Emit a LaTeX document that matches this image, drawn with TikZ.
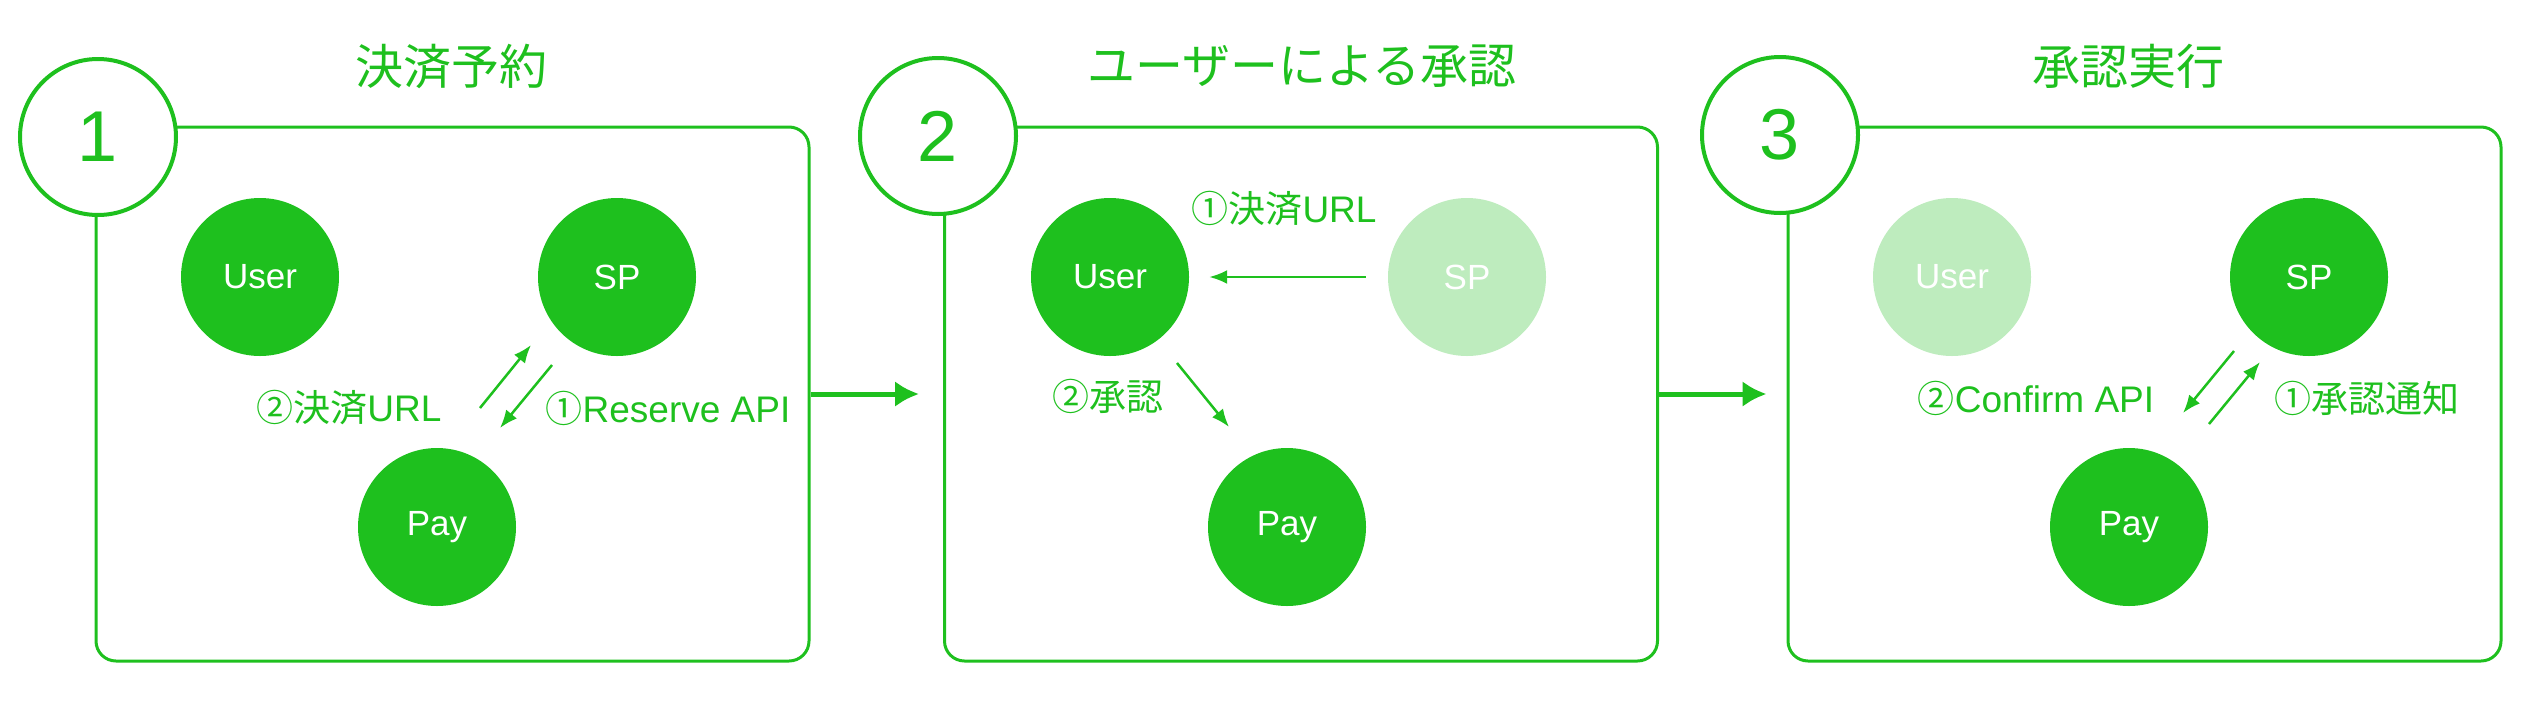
\documentclass[tikz,border=0pt]{standalone}
\usepackage{fontspec}
\setmainfont{Liberation Sans}
\newfontfamily\cjk{Noto Sans CJK JP}
\usetikzlibrary{arrows.meta}
\definecolor{lg}{RGB}{30,192,30}
\definecolor{lgl}{RGB}{190,236,190}
\begin{document}
\begin{tikzpicture}[x=1pt,y=-1pt,
 actor/.style={circle,fill=lg,text=white,minimum size=158pt,inner sep=0pt,font=\fontsize{35}{42}\selectfont},
 faded/.style={actor,fill=lgl},
 panel/.style={draw=lg,line width=3pt,rounded corners=20pt,minimum width=713pt,minimum height=534pt,inner sep=0pt},
 stepnum/.style={circle,draw=lg,line width=4pt,fill=white,minimum size=156pt,inner sep=0pt,text=lg,font=\fontsize{72}{80}\selectfont},
 title/.style={text=lg,font=\cjk\fontsize{48}{56}\selectfont,inner sep=0pt},
 lab/.style={text=lg,font=\fontsize{37}{44}\selectfont,inner sep=0pt},
 msg/.style={draw=lg,line width=2.5pt,-{Latex[length=18pt,width=14pt]}},
 flow/.style={draw=lg,line width=5pt,-{Latex[length=24pt,width=26pt]}}
]
\useasboundingbox (0,0) rectangle (2530,710);
% panels
\node[panel] (box1) at (452.5,394) {};
\node[panel] (box2) at (1301,394) {};
\node[panel] (box3) at (2144.5,394) {};
% step circles
\node[stepnum] (n1) at (98,137) {1};
\node[stepnum] (n2) at (938,136) {2};
\node[stepnum] (n3) at (1780,135) {3};
% titles
\node[title] (t1) at (451,66) {決済予約};
\node[title] (t2) at (1302,66) {ユーザーによる承認};
\node[title] (t3) at (2128,66) {承認実行};
% flow arrows
\draw[flow,shorten >=24pt] (box1.east) -- (box2.west);
\draw[flow,shorten >=20pt] (box2.east) -- (box3.west);
% panel 1
\node[actor] (user1) at (260,277) {User};
\node[actor] (sp1) at (617,277) {SP};
\node[actor] (pay1) at (437,527) {Pay};
\coordinate (a1s) at (480,408); \coordinate (a1e) at (531,345);
\coordinate (b1s) at (552,365); \coordinate (b1e) at (500,428);
\draw[msg] (a1s) -- (a1e);
\draw[msg] (b1s) -- (b1e);
\node[lab] (l1a) at (349,408) {{\cjk ②決済}URL};
\node[lab] (l1b) at (668,408) {{\cjk ①}Reserve API};
% panel 2
\node[actor] (user2) at (1110,277) {User};
\node[faded] (sp2) at (1467,277) {SP};
\node[actor] (pay2) at (1287,527) {Pay};
\draw[msg,shorten <=22pt,shorten >=20pt] (sp2) -- (user2);
\coordinate (c2s) at (1177,363); \coordinate (c2e) at (1229,427);
\draw[msg] (c2s) -- (c2e);
\node[lab] (l2a) at (1284,209) {{\cjk ①決済}URL};
\node[lab] (l2b) at (1108,396) {{\cjk ②承認}};
% panel 3
\node[faded] (user3) at (1952,277) {User};
\node[actor] (sp3) at (2309,277) {SP};
\node[actor] (pay3) at (2129,527) {Pay};
\coordinate (d3s) at (2234,351); \coordinate (d3e) at (2183,413);
\coordinate (e3s) at (2209,424); \coordinate (e3e) at (2260,362);
\draw[msg] (d3s) -- (d3e);
\draw[msg] (e3s) -- (e3e);
\node[lab] (l3a) at (2036,398) {{\cjk ②}Confirm API};
\node[lab] (l3b) at (2367,398) {{\cjk ①承認通知}};
\end{tikzpicture}
\end{document}
